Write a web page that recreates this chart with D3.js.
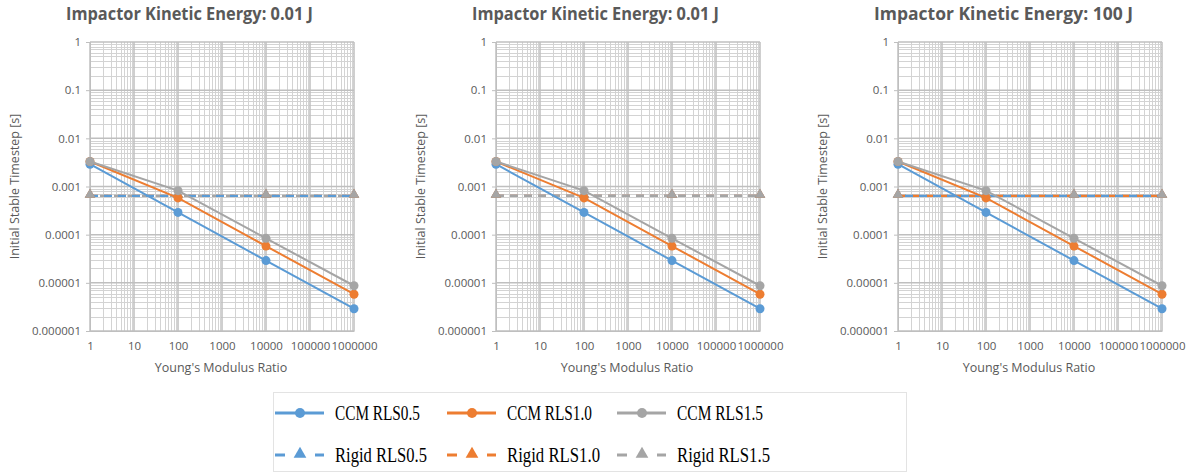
<!DOCTYPE html>
<html>
<head>
<meta charset="utf-8">
<script src="https://cdn.jsdelivr.net/npm/d3@7/dist/d3.min.js"></script>
<style>
  html, body { margin: 0; padding: 0; background: #ffffff; }
  svg { display: block; }
</style>
</head>
<body>
<svg id="chart" width="1191" height="476"></svg>
<script>
// Panel titles
const panelTitles = [
  "Impactor Kinetic Energy: 0.01 J",
  "Impactor Kinetic Energy: 0.01 J",
  "Impactor Kinetic Energy: 100 J"
];

// Young's modulus ratio (x values)
const modulusRatio = [1, 100, 10000, 1000000];

// Initial stable timestep [s], CCM runs
const ccmRLS05 = [0.0029, 0.00029, 0.000029, 0.0000029];
const ccmRLS10 = [0.0033, 0.00058, 0.000058, 0.0000058];
const ccmRLS15 = [0.0033, 0.00082, 0.000084, 0.0000087];

// Initial stable timestep [s], rigid impactor runs
const rigidRLS05 = [0.00064, 0.00064, 0.00064, 0.00064];
const rigidRLS10 = [0.00064, 0.00064, 0.00064, 0.00064];
const rigidRLS15 = [0.00064, 0.00064, 0.00064, 0.00064];

// Axis ticks and labels
const xTickValues = [1, 10, 100, 1000, 10000, 100000, 1000000];
const xTickLabels = ["1", "10", "100", "1000", "10000", "100000", "1000000"];
const yTickValues = [0.000001, 0.00001, 0.0001, 0.001, 0.01, 0.1, 1];
const yTickLabels = ["0.000001", "0.00001", "0.0001", "0.001", "0.01", "0.1", "1"];

const xAxisTitle = "Young's Modulus Ratio";
const yAxisTitle = "Initial Stable Timestep [s]";

const seriesNames = ["CCM RLS0.5", "CCM RLS1.0", "CCM RLS1.5", "Rigid RLS0.5", "Rigid RLS1.0", "Rigid RLS1.5"];
const seriesColors = ["#5B9BD5", "#ED7D31", "#A5A5A5"];

const ccmSeries = [ccmRLS05, ccmRLS10, ccmRLS15];
const rigidSeries = [rigidRLS05, rigidRLS10, rigidRLS15];

// Layout
const plotLefts = [90, 496, 898];
const plotWidth = 264;
const plotTop = 42;
const plotBottom = 331;

// Per-panel dash offsets and draw order for the overlapping rigid lines
const rigidDashStyle = [
  { order: [1, 2, 0], offsets: [0, 0, 4] },
  { order: [0, 1, 2], offsets: [0, 0, 0] },
  { order: [2, 1, 0], offsets: [7, 0, 0] }
];

const textGray = "#595959";
const svg = d3.select("#chart");

function minorValues(lo, hi) {
  const out = [];
  for (let d = lo; d < hi * 0.999; d *= 10) {
    for (let k = 2; k <= 9; k++) out.push(d * k);
  }
  return out;
}

const triangle = d3.symbol().type(d3.symbolTriangle).size(48);

plotLefts.forEach((left, p) => {
  const x = d3.scaleLog().domain([1, 1000000]).range([left, left + plotWidth]);
  const y = d3.scaleLog().domain([0.000001, 1]).range([plotBottom, plotTop]);
  const g = svg.append("g");

  // Minor gridlines
  const grid = g.append("g");
  grid.selectAll("line.vminor").data(minorValues(1, 1000000)).join("line")
    .attr("x1", d => Math.round(x(d)) + 0.5).attr("x2", d => Math.round(x(d)) + 0.5)
    .attr("y1", plotTop).attr("y2", plotBottom)
    .attr("stroke", "#d3d3d3").attr("stroke-width", 1);
  grid.selectAll("line.hminor").data(minorValues(0.000001, 1)).join("line")
    .attr("y1", d => Math.round(y(d)) + 0.5).attr("y2", d => Math.round(y(d)) + 0.5)
    .attr("x1", left).attr("x2", left + plotWidth)
    .attr("stroke", "#d3d3d3").attr("stroke-width", 1);
  // Major gridlines
  grid.selectAll("line.vmajor").data(xTickValues).join("line")
    .attr("x1", d => x(d)).attr("x2", d => x(d))
    .attr("y1", plotTop).attr("y2", plotBottom)
    .attr("stroke", "#bfbfbf").attr("stroke-width", 1.5);
  grid.selectAll("line.hmajor").data(yTickValues).join("line")
    .attr("y1", d => y(d)).attr("y2", d => y(d))
    .attr("x1", left).attr("x2", left + plotWidth)
    .attr("stroke", "#bfbfbf").attr("stroke-width", 1.5);

  // Axes
  const yAxis = d3.axisLeft(y).tickValues(yTickValues)
    .tickFormat((d, i) => yTickLabels[i]).tickSize(4).tickPadding(5);
  const ya = g.append("g").attr("transform", `translate(${left},0)`).call(yAxis);
  ya.select(".domain").attr("stroke", "#bfbfbf");
  ya.selectAll(".tick line").attr("stroke", "#bfbfbf");
  ya.selectAll("text").attr("fill", textGray)
    .style("font-family", "'Open Sans', sans-serif").style("font-size", "11.5px");

  const xAxis = d3.axisBottom(x).tickValues(xTickValues)
    .tickFormat((d, i) => xTickLabels[i]).tickSize(0).tickPadding(11);
  const xa = g.append("g").attr("transform", `translate(0,${plotBottom})`).call(xAxis);
  xa.select(".domain").attr("stroke", "#bfbfbf");
  xa.selectAll("text").attr("fill", textGray)
    .style("font-family", "'Open Sans', sans-serif").style("font-size", "11.5px");

  // Rigid series: dashed lines with triangle markers
  const line = d3.line().x((d, i) => x(modulusRatio[i])).y(d => y(d));
  const style = rigidDashStyle[p];
  style.order.forEach(s => {
    g.append("path").datum(rigidSeries[s])
      .attr("d", line).attr("fill", "none")
      .attr("stroke", seriesColors[s]).attr("stroke-width", 2.25)
      .attr("stroke-dasharray", "8,6").attr("stroke-dashoffset", style.offsets[s]);
  });
  rigidSeries.forEach((vals, s) => {
    g.selectAll(null).data(vals).join("path")
      .attr("d", triangle)
      .attr("transform", (d, i) => `translate(${x(modulusRatio[i])},${y(d) - 1})`)
      .attr("fill", seriesColors[s]);
  });

  // CCM series: solid lines with circle markers
  ccmSeries.forEach((vals, s) => {
    g.append("path").datum(vals)
      .attr("d", line).attr("fill", "none")
      .attr("stroke", seriesColors[s]).attr("stroke-width", 2);
    g.selectAll(null).data(vals).join("circle")
      .attr("cx", (d, i) => x(modulusRatio[i]))
      .attr("cy", d => y(d))
      .attr("r", 4.5)
      .attr("fill", seriesColors[s]);
  });

  // Titles
  g.append("text")
    .attr("x", left - 24).attr("y", 20)
    .attr("fill", textGray)
    .attr("textLength", p === 2 ? 259 : 247).attr("lengthAdjust", "spacingAndGlyphs")
    .style("font-family", "'Open Sans', sans-serif").style("font-weight", "bold").style("font-size", "17.5px")
    .text(panelTitles[p]);

  g.append("text")
    .attr("x", left + plotWidth / 2 - 1).attr("y", 372)
    .attr("text-anchor", "middle").attr("fill", textGray)
    .style("font-family", "'Open Sans', sans-serif").style("font-size", "12.5px")
    .text(xAxisTitle);

  g.append("text")
    .attr("transform", `translate(${left - 71},${(plotTop + plotBottom) / 2}) rotate(-90)`)
    .attr("text-anchor", "middle").attr("fill", textGray)
    .style("font-family", "'Open Sans', sans-serif").style("font-size", "12.5px")
    .text(yAxisTitle);
});

// Legend
const legend = svg.append("g");
legend.append("rect")
  .attr("x", 273.5).attr("y", 392.5).attr("width", 633).attr("height", 79)
  .attr("fill", "#ffffff").attr("stroke", "#e3e3e3");

const legendCols = [275, 447, 617];
const legendRows = [413, 455];
const legendTextWidths = [85, 85, 86, 92, 93, 93];

seriesNames.forEach((name, i) => {
  const col = i % 3;
  const row = Math.floor(i / 3);
  const x0 = legendCols[col];
  const yy = legendRows[row];
  const color = seriesColors[col];
  const item = legend.append("g");
  if (row === 0) {
    item.append("line").attr("x1", x0).attr("x2", x0 + 49).attr("y1", yy).attr("y2", yy)
      .attr("stroke", color).attr("stroke-width", 3);
    item.append("circle").attr("cx", x0 + 25).attr("cy", yy).attr("r", 5).attr("fill", color);
  } else {
    item.append("line").attr("x1", x0).attr("x2", x0 + 10).attr("y1", yy).attr("y2", yy)
      .attr("stroke", color).attr("stroke-width", 3);
    item.append("line").attr("x1", x0 + 40).attr("x2", x0 + 49).attr("y1", yy).attr("y2", yy)
      .attr("stroke", color).attr("stroke-width", 3);
    item.append("path").attr("d", d3.symbol().type(d3.symbolTriangle).size(70))
      .attr("transform", `translate(${x0 + 25},${yy - 1})`).attr("fill", color);
  }
  item.append("text")
    .attr("x", x0 + 60).attr("y", yy + 7)
    .attr("fill", "#000000")
    .attr("textLength", legendTextWidths[i]).attr("lengthAdjust", "spacingAndGlyphs")
    .style("font-family", "'Liberation Serif', serif").style("font-size", "20px")
    .text(name);
});
</script>
</body>
</html>
